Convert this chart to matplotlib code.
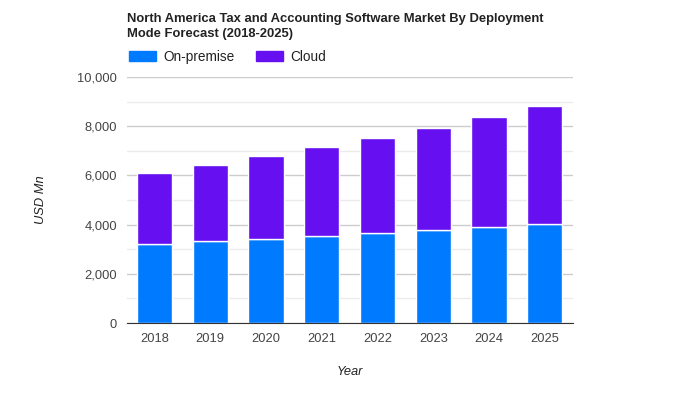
import numpy as np
import matplotlib.pyplot as plt
from matplotlib.patches import Patch

plt.rcParams['font.family'] = ['Liberation Sans', 'DejaVu Sans']

years = ['2018', '2019', '2020', '2021', '2022', '2023', '2024', '2025']
on_premise = [3220, 3330, 3410, 3545, 3655, 3775, 3910, 4020]
total = [6100, 6430, 6795, 7160, 7525, 7930, 8375, 8825]
cloud = [t - o for t, o in zip(total, on_premise)]

c_prem = '#007bff'
c_cloud = '#6610f2'

fig = plt.figure(figsize=(7, 4), dpi=100)
ax = fig.add_axes([0.181, 0.1925, 0.637, 0.615])

x = np.arange(len(years))
ax.bar(x, on_premise, width=0.63, color=c_prem, edgecolor='white', linewidth=1, zorder=3)
ax.bar(x, cloud, width=0.63, bottom=on_premise, color=c_cloud, edgecolor='white', linewidth=1, zorder=3)

ax.set_xlim(-0.5, 7.5)
ax.set_ylim(0, 10000)
ax.set_yticks(np.arange(0, 10001, 2000))
ax.set_yticks(np.arange(1000, 10000, 2000), minor=True)
ax.set_yticklabels(['{:,}'.format(v) for v in range(0, 10001, 2000)])
ax.set_xticks(x)
ax.set_xticklabels(years)
ax.grid(axis='y', which='major', color='#cccccc', linewidth=1, zorder=0)
ax.grid(axis='y', which='minor', color='#ebebeb', linewidth=1, zorder=0)
ax.tick_params(axis='both', which='both', length=0, labelsize=9.3, colors='#444444', pad=7)
for s in ['top', 'right', 'left']:
    ax.spines[s].set_visible(False)
ax.spines['bottom'].set_color('#333333')
ax.spines['bottom'].set_zorder(4)

ax.set_xlabel('Year', fontsize=9.3, style='italic', color='#222222', labelpad=15)
ax.set_ylabel('USD Mn', fontsize=9.3, style='italic', color='#222222', labelpad=22)

fig.text(0.181, 0.934, 'North America Tax and Accounting Software Market By Deployment\nMode Forecast (2018-2025)',
         fontsize=9.4, fontweight='bold', color='#222222', ha='left', va='center', linespacing=1.3)

handles = [Patch(color=c_prem, label='On-premise'), Patch(color=c_cloud, label='Cloud')]
fig.legend(handles=handles, loc='center left', bbox_to_anchor=(0.167, 0.858), ncol=2, frameon=False,
           fontsize=9.8, handlelength=2.0, handleheight=0.8, columnspacing=1.6, handletextpad=0.5,
           labelcolor='#222222')

plt.savefig('out.png')
